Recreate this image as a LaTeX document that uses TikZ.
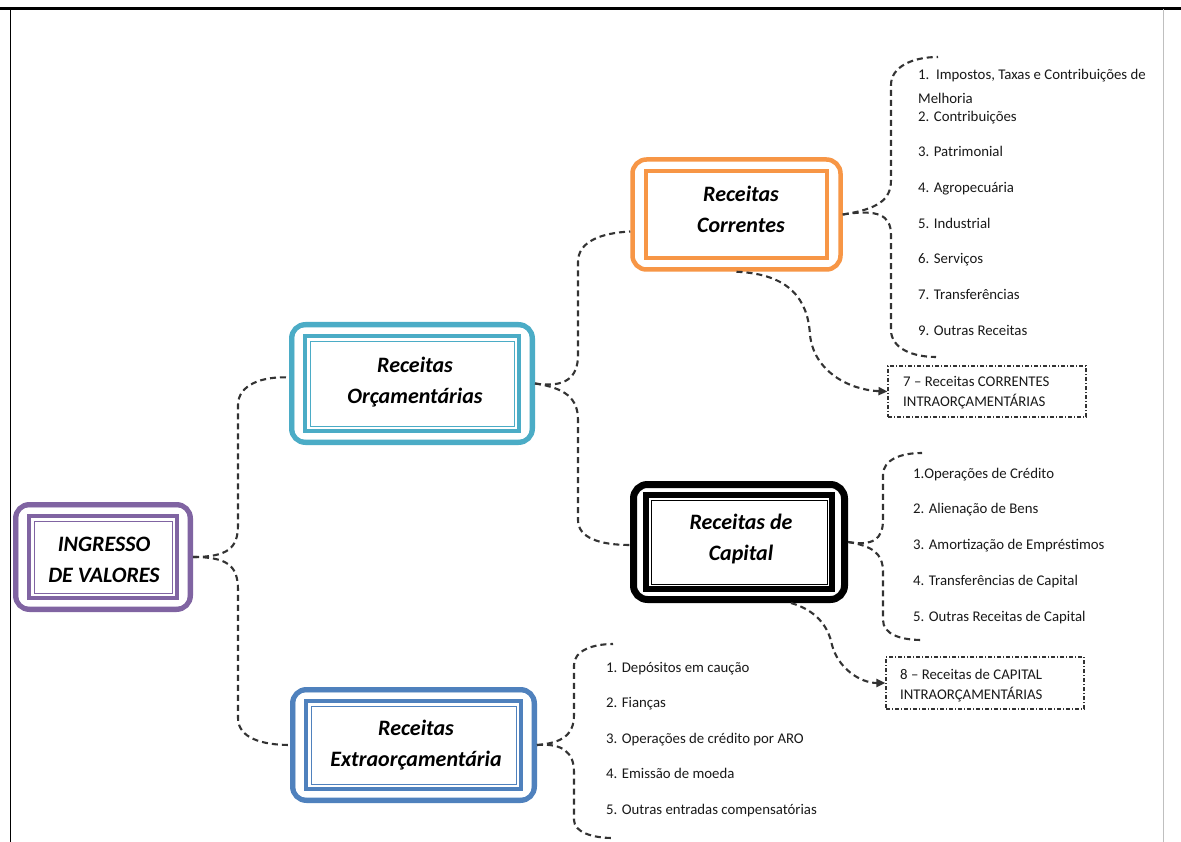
\documentclass[tikz,border=0pt]{standalone}
\usepackage{fontspec}
\setmainfont{Carlito}
\usetikzlibrary{arrows.meta}
\definecolor{cOrange}{HTML}{F79646}
\definecolor{cTeal}{HTML}{4BACC6}
\definecolor{cPurple}{HTML}{8064A2}
\definecolor{cBlue}{HTML}{4F81BD}
\tikzset{
 conn/.style={draw=black!80, line width=2.1pt, dash pattern=on 6pt off 4pt},
 arr/.style={conn, -{Triangle[length=9pt,width=8pt]}},
 boxtxt/.style={font=\fontsize{22}{31}\selectfont\bfseries\itshape, align=center, text=black, inner sep=0pt},
 item/.style={font=\fontsize{14.8}{17}\selectfont, anchor=base west, inner sep=0pt, text=black!90},
 outerbox/.style={rounded corners=14pt, inner sep=0pt},
 ddbox/.style={draw=black!80, line width=1.1pt, dash pattern=on 4pt off 2pt on 1pt off 2pt, inner sep=0pt}
}
\newif\ifthinlines
% name, x, y, w, h, colour, text, outer lw, inner lw
\newcommand\mkbox[9]{%
 \node[outerbox, draw=#6, line width=#8pt, minimum width=#4pt, minimum height=#5pt] (#1) at (#2,#3) {};
 \draw[#6, line width=#9pt] ([shift={(16pt,-14pt)}]#1.north west) rectangle ([shift={(-16pt,14pt)}]#1.south east);
 \ifthinlines
 \draw[#6, line width=0.8pt, rounded corners=10pt] ([shift={(5pt,-5pt)}]#1.north west) rectangle ([shift={(-5pt,5pt)}]#1.south east);
 \draw[#6, line width=0.8pt] ([shift={(21pt,-19pt)}]#1.north west) rectangle ([shift={(-21pt,19pt)}]#1.south east);
 \fi
}
\begin{document}
\begin{tikzpicture}[x=1pt,y=-1pt]
\useasboundingbox (0,0) rectangle (1181,842);
\fill[white] (0,0) rectangle (1181,842);
% page frame
\draw[line width=3pt] (0,9) -- (1181,9);
\draw[line width=1pt] (10,9) -- (10,842);
\draw[black!25, line width=1pt] (1163,9) -- (1163,842);

% boxes
\thinlinestrue
\mkbox{ing}{103}{557}{175}{105}{cPurple}{}{5}{4}
\mkbox{orc}{412}{383.5}{241}{118}{cTeal}{}{5}{4}
\mkbox{ext}{413.5}{745}{242}{111}{cBlue}{}{5}{4}
\mkbox{cap}{739}{542}{211}{115}{black}{}{7}{6}
\thinlinesfalse
\mkbox{cor}{736.5}{214.5}{208}{110}{cOrange}{}{4.5}{4}

\node[boxtxt] (ing-t) at (104,560) {INGRESSO\\DE VALORES};
\node[boxtxt] (orc-t) at (415,382) {Receitas\\Orçamentárias};
\node[boxtxt] (ext-t) at (416,745) {Receitas\\Extraorçamentária};
\node[boxtxt] (cap-t) at (741,539) {Receitas de\\Capital};
\node[boxtxt] (cor-t) at (741,209) {Receitas\\Correntes};

% intra boxes
\node[ddbox, minimum width=198pt, minimum height=51pt] (b7) at (987,391.5) {};
\node[item] (b7a) at (903,386) {7 – Receitas CORRENTES};
\node[item] (b7b) at (903,406) {INTRAORÇAMENTÁRIAS};
\node[ddbox, minimum width=198pt, minimum height=52pt] (b8) at (985,683) {};
\node[item] (b8a) at (900,679) {8 – Receitas de CAPITAL};
\node[item] (b8b) at (900,699) {INTRAORÇAMENTÁRIAS};

% lists
\node[item] (c1) at (918,80) {1.\ \ Impostos, Taxas e Contribuições de};
\node[item] (c1b) at (918,104) {Melhoria};
\node[item] (c2) at (918,122) {2. Contribuições};
\node[item] (c3) at (918,157) {3. Patrimonial};
\node[item] (c4) at (918,193) {4. Agropecuária};
\node[item] (c5) at (918,229) {5. Industrial};
\node[item] (c6) at (918,264) {6. Serviços};
\node[item] (c7) at (918,300) {7. Transferências};
\node[item] (c9) at (918,336) {9. Outras Receitas};

\node[item] (k1) at (913,478) {1.Operações de Crédito};
\node[item] (k2) at (913,513) {2. Alienação de Bens};
\node[item] (k3) at (913,549) {3. Amortização de Empréstimos};
\node[item] (k4) at (913,585) {4. Transferências de Capital};
\node[item] (k5) at (913,621) {5. Outras Receitas de Capital};

\node[item] (e1) at (606,672) {1. Depósitos em caução};
\node[item] (e2) at (606,707) {2. Fianças};
\node[item] (e3) at (606,743) {3. Operações de crédito por ARO};
\node[item] (e4) at (606,778) {4. Emissão de moeda};
\node[item] (e5) at (606,814) {5. Outras entradas compensatórias};

% brace end points
\coordinate (corTop) at (938,57);
\coordinate (corBot) at (936,357);
\coordinate (capTop) at (922,453);
\coordinate (capBot) at (922,640);
\coordinate (extTop) at (613,644);
\coordinate (extBot) at (613,838);

% connectors
\draw[conn] (ing.east) .. controls (228,557) and (238,548) .. (238,525) -- (238,405) .. controls (238,385) and (262,376) .. ([yshift=6pt]orc.west);
\draw[conn] (ing.east) .. controls (228,557) and (238,566) .. (238,590) -- (238,718) .. controls (238,738) and (262,745) .. (ext.west);
\draw[conn] (orc.east) .. controls (565,388) and (578,378) .. (578,355) -- (578,262) .. controls (578,242) and (600,233) .. ([yshift=-17pt]cor.west);
\draw[conn] (orc.east) .. controls (565,388) and (578,398) .. (578,420) -- (578,520) .. controls (578,538) and (600,545) .. ([yshift=-3pt]cap.west);

\draw[conn] (cor.east) .. controls (878,209) and (891,200) .. (891,180) -- (891,85) .. controls (891,67) and (912,57) .. (corTop);
\draw[conn] (cor.east) .. controls (878,209) and (891,215) .. (891,235) -- (891,330) .. controls (891,348) and (912,357) .. (corBot);

\draw[conn] (cap.east) .. controls (872,546) and (883,540) .. (883,520) -- (883,475) .. controls (883,460) and (900,453) .. (capTop);
\draw[conn] (cap.east) .. controls (872,546) and (883,553) .. (883,572) -- (883,620) .. controls (883,634) and (900,640) .. (capBot);

\draw[conn] (ext.east) .. controls (562,743) and (574,735) .. (574,715) -- (574,665) .. controls (574,651) and (592,644) .. (extTop);
\draw[conn] (ext.east) .. controls (562,743) and (574,752) .. (574,772) -- (574,820) .. controls (574,832) and (592,838) .. (extBot);

\draw[arr] (cor.south) .. controls (790,274) and (808,300) .. (810,335) .. controls (814,372) and (850,390) .. (b7.west);
\draw[arr] ([xshift=52pt]cap.south) .. controls (815,610) and (828,625) .. (832,645) .. controls (838,668) and (860,683) .. (b8.west);
\end{tikzpicture}
\end{document}
